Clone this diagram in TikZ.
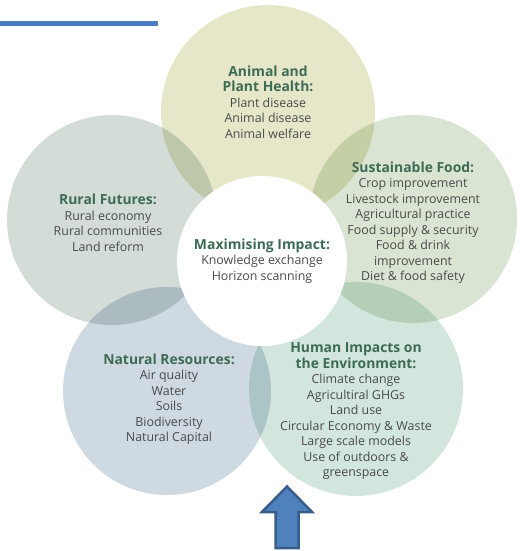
\documentclass[tikz,border=0pt]{standalone}
\usepackage{fontspec}
\setmainfont{Open Sans}
\definecolor{cTop}{HTML}{E6E7C9}
\definecolor{cRural}{HTML}{D3DCD7}
\definecolor{cFood}{HTML}{DAE4D2}
\definecolor{cNat}{HTML}{CFD9E2}
\definecolor{cHum}{HTML}{D2E6DE}
\definecolor{oTopRural}{HTML}{BEC7A9}
\definecolor{oTopFood}{HTML}{C5CFA6}
\definecolor{oRuralNat}{HTML}{ABBBBF}
\definecolor{oNatHum}{HTML}{ABC4C5}
\definecolor{oHumFood}{HTML}{B4CEB7}
\definecolor{ttl}{HTML}{3E6B55}
\definecolor{itm}{HTML}{4A4A4A}
\definecolor{arrowfill}{HTML}{4F81BD}
\definecolor{arrowedge}{HTML}{385D8A}
\definecolor{topline}{HTML}{4A7CC4}
\tikzset{
  petal/.style={circle, draw=none, inner sep=0pt, minimum size=#1},
  blocktext/.style={anchor=north, inner sep=0pt, align=center, text=itm,
    font=\fontsize{12.4}{15.5}\selectfont}
}
\newcommand{\ttlline}[1]{{\color{ttl}\fontsize{13.9}{15.5}\selectfont\bfseries #1}}
\begin{document}
\begin{tikzpicture}[x=1pt,y=-1pt]
\useasboundingbox (0,0) rectangle (519,551);
\fill[topline] (0,21) rectangle (158,26);
% petals
\node[petal=214pt, fill=cTop] (ap) at (268,112) {};
\node[petal=210pt, fill=cRural] (rf) at (112,220) {};
\node[petal=208pt, fill=cFood] (sf) at (413,219) {};
\node[petal=208pt, fill=cNat] (nr) at (167,391) {};
\node[petal=214pt, fill=cHum] (hi) at (356,389) {};
% overlaps
\begin{scope}
  \clip (268,112) circle (107);
  \fill[oTopRural] (112,220) circle (105);
  \fill[oTopFood] (413,219) circle (104);
\end{scope}
\begin{scope}
  \clip (167,391) circle (104);
  \fill[oRuralNat] (112,220) circle (105);
  \fill[oNatHum] (356,389) circle (107);
\end{scope}
\begin{scope}
  \clip (356,389) circle (107);
  \fill[oHumFood] (413,219) circle (104);
\end{scope}
\node[petal=170pt, fill=white] (centre) at (262,261) {};

\node[blocktext] (tap) at (268,65.5) {\ttlline{Animal and}\\\ttlline{Plant Health:}\\Plant disease\\Animal disease\\Animal welfare};
\node[blocktext] (trf) at (108,194) {\ttlline{Rural Futures:}\\Rural economy\\Rural communities\\Land reform};
\node[blocktext] (tsf) at (413,161.5) {\ttlline{Sustainable Food:}\\Crop improvement\\Livestock improvement\\Agricultural practice\\Food supply \& security\\Food \& drink\\improvement\\Diet \& food safety};
\node[blocktext] (tc) at (262,238.5) {\ttlline{Maximising Impact:}\\Knowledge exchange\\Horizon scanning};
\node[blocktext] (tnr) at (169,353.5) {\ttlline{Natural Resources:}\\Air quality\\Water\\Soils\\Biodiversity\\Natural Capital};
\node[blocktext] (thi) at (356,342.5) {\ttlline{Human Impacts on}\\\ttlline{the Environment:}\\Climate change\\Agricultiral GHGs\\Land use\\Circular Economy \& Waste\\Large scale models\\Use of outdoors \&\\greenspace};

\draw[fill=arrowfill, draw=arrowedge, line width=2.5pt, line join=miter]
  (287,486.5) -- (312,512) -- (298.5,512) -- (298.5,548) -- (275.5,548) -- (275.5,512) -- (262,512) -- cycle;
\end{tikzpicture}
\end{document}
